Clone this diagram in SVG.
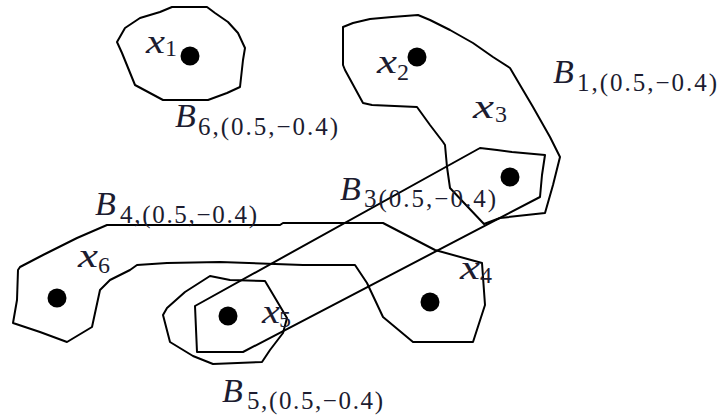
<svg xmlns="http://www.w3.org/2000/svg" width="720" height="419" viewBox="0 0 720 419">
<style>
.set{fill:none;stroke:#000;stroke-width:2;stroke-linejoin:round}
.dot{fill:#000}
.m{font-family:"Liberation Serif","DejaVu Serif",serif;font-style:italic;font-size:34px;fill:#1c1c30}
.s{font-family:"Liberation Serif","DejaVu Serif",serif;font-size:25px;fill:#1c1c30}
.d{font-family:"Liberation Serif","DejaVu Serif",serif;font-size:24px;fill:#1c1c30}
</style>
<rect width="720" height="419" fill="#fff"/>
<g id="B6">
<polygon class="set" points="117,42 125,28 140,18 160,12 172,7 207,7 215,13 228,22 238,33 245,48 243,60 240,87 227,93 208,100 163,100 135,85 122,53"/>
<text class="m" x="175" y="127">B</text><text class="s" x="198" y="135" textLength="140">6,(0.5,−0.4)</text>
</g>
<g id="B1">
<polygon class="set" points="343,27 353,23 370,19 392,17 418,15 430,20 450,30 473,43 493,57 510,68 520,85 533,107 550,137 560,157 553,185 545,213 500,218 484,224 466,205 450,188 447,167 445,145 443,142 430,125 417,107 372,105 363,103 345,70 343,65"/>
<text class="m" x="553" y="83">B</text><text class="s" x="577" y="91" textLength="140">1,(0.5,−0.4)</text>
</g>
<g id="B3">
<polygon class="set" points="195,306 480,148 497,150 512,152 545,155 542,175 540,197 243,352 197,352"/>
<text class="m" x="340" y="200">B</text><text class="s" x="364" y="207" textLength="132">3(0.5,−0.4)</text>
</g>
<g id="B4">
<polygon class="set" points="107,225 280,225 283,223 383,223 435,250 482,263 485,305 473,342 413,342 383,317 367,283 355,265 303,265 220,262 167,263 137,265 130,270 110,280 100,290 92,327 67,342 40,332 13,323 17,300 18,270 20,267 43,255 77,238"/>
<text class="m" x="95" y="215">B</text><text class="s" x="120" y="223" textLength="137">4,(0.5,−0.4)</text>
</g>
<g id="B5">
<polygon class="set" points="210,276 230,280 265,281 287,318 283,333 270,350 262,362 213,364 193,356 170,342 163,315 167,308 185,292"/>
<text class="m" x="222" y="402">B</text><text class="s" x="247" y="409" textLength="136">5,(0.5,−0.4)</text>
</g>
<g id="x1"><circle class="dot" cx="190" cy="56" r="9.5"/><text class="m" x="146" y="53" textLength="19" lengthAdjust="spacingAndGlyphs">x</text><text class="d" x="165" y="56">1</text></g>
<g id="x2"><circle class="dot" cx="417" cy="57" r="9.5"/><text class="m" x="377" y="73" textLength="20" lengthAdjust="spacingAndGlyphs">x</text><text class="d" x="397" y="80">2</text></g>
<g id="x3"><circle class="dot" cx="510" cy="177" r="9.5"/><text class="m" x="473" y="118" textLength="21" lengthAdjust="spacingAndGlyphs">x</text><text class="d" x="495" y="122">3</text></g>
<g id="x4"><circle class="dot" cx="430" cy="302" r="9.5"/><text class="m" x="460" y="279" textLength="20" lengthAdjust="spacingAndGlyphs">x</text><text class="d" x="480" y="283">4</text></g>
<g id="x5"><circle class="dot" cx="228" cy="316" r="9.5"/><text class="m" x="262" y="323" textLength="18" lengthAdjust="spacingAndGlyphs">x</text><text class="d" x="279" y="327">5</text></g>
<g id="x6"><circle class="dot" cx="57" cy="298" r="9.5"/><text class="m" x="78" y="267" textLength="20" lengthAdjust="spacingAndGlyphs">x</text><text class="d" x="98" y="273">6</text></g>
</svg>
